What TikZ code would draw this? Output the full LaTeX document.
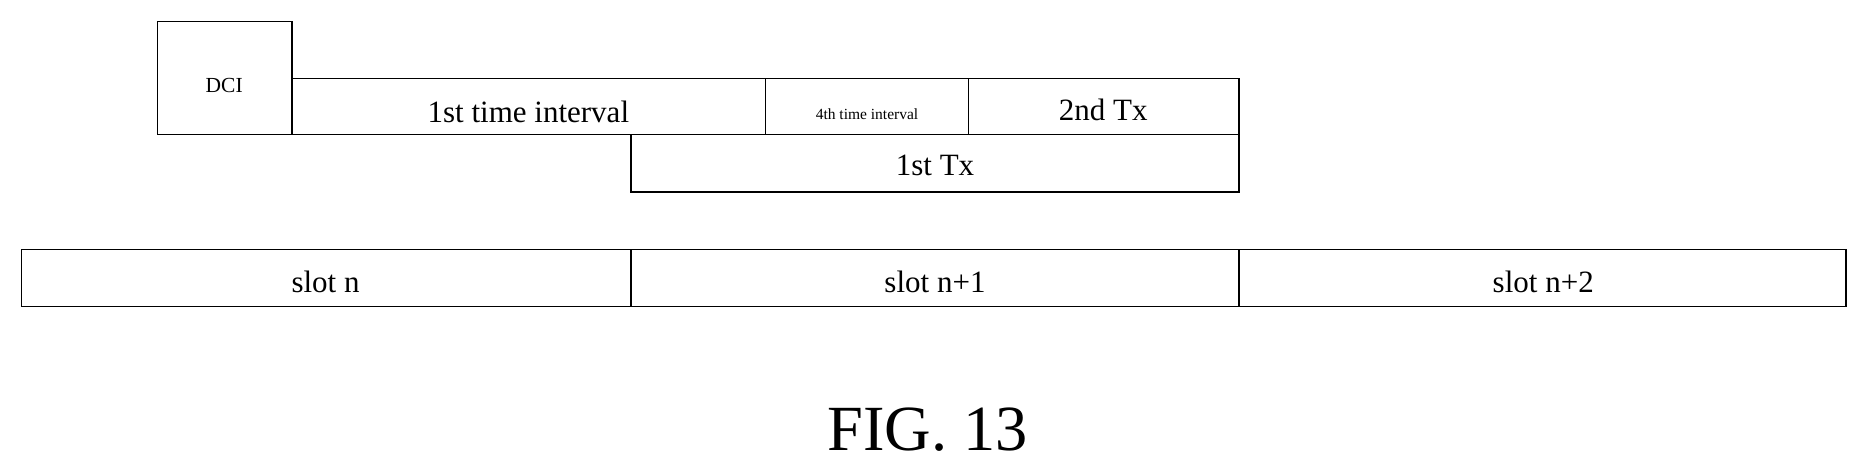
\documentclass[tikz,border=0pt]{standalone}
\usepackage{fontspec}
\setmainfont{Liberation Serif}
\begin{document}
\begin{tikzpicture}[x=0.5pt,y=-0.5pt,
  bx/.style={draw,line width=0.6pt,inner sep=0pt,font=\fontsize{13}{15}\selectfont}]
\useasboundingbox (0,0) rectangle (1568,397);
\draw[line width=0.6pt] (132,18) rectangle (245,113);
\node (dci) at (188,72) {\fontsize{9}{11}\selectfont DCI};
\draw[line width=0.6pt] (245,66) rectangle (642,113);
\node (t1) at (443,94) {\fontsize{13}{15}\selectfont 1st time interval};
\draw[line width=0.6pt] (642,66) rectangle (812,113);
\node (t4) at (727,96) {\fontsize{6.5}{8}\selectfont 4th time interval};
\draw[line width=0.6pt] (812,66) rectangle (1039,113);
\node (tx2) at (925,92) {\fontsize{13}{15}\selectfont 2nd Tx};
\draw[line width=0.6pt] (529,113) rectangle (1039,161);
\node (tx1) at (784,139) {\fontsize{13}{15}\selectfont 1st Tx};
\draw[line width=0.6pt] (18,209) rectangle (529,257);
\draw[line width=0.6pt] (529,209) rectangle (1039,257);
\draw[line width=0.6pt] (1039,209) rectangle (1548,257);
\node (s0) at (273,236) {\fontsize{13}{15}\selectfont slot n};
\node (s1) at (784,236) {\fontsize{13}{15}\selectfont slot n+1};
\node (s2) at (1294,236) {\fontsize{13}{15}\selectfont slot n+2};
\node (fig) at (778,360) {\fontsize{27}{30}\selectfont FIG. 13};
\end{tikzpicture}
\end{document}
